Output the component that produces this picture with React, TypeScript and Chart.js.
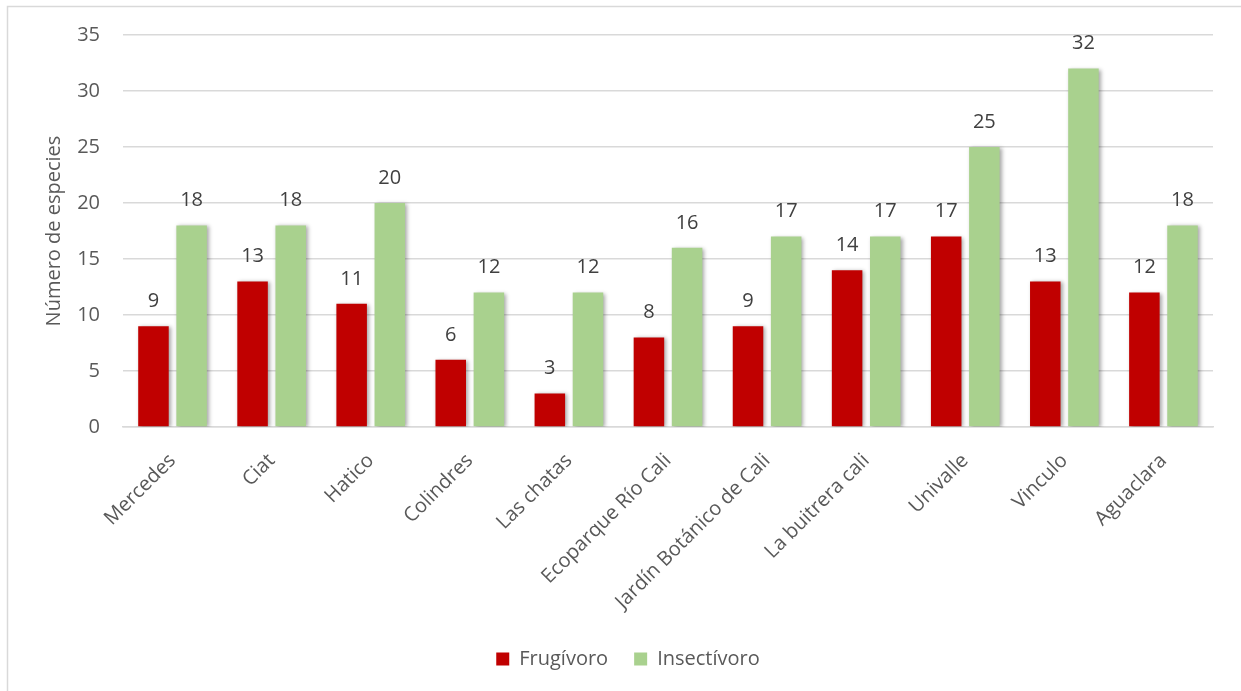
import React, { useEffect, useRef } from "react";
import { Chart, registerables } from "chart.js";

Chart.register(...registerables);

const categories = [
  "Mercedes",
  "Ciat",
  "Hatico",
  "Colindres",
  "Las chatas",
  "Ecoparque Río Cali",
  "Jardín Botánico de Cali",
  "La buitrera cali",
  "Univalle",
  "Vinculo",
  "Aguaclara",
];
const frugivoro = [9, 13, 11, 6, 3, 8, 9, 14, 17, 13, 12];
const insectivoro = [18, 18, 20, 12, 12, 16, 17, 17, 25, 32, 18];
const seriesNames = ["Frugívoro", "Insectívoro"];
const yTicks = [0, 5, 10, 15, 20, 25, 30, 35];

const FONT = "'Open Sans', sans-serif";
const TEXT = "#595959";

const shadowPlugin = {
  id: "barShadow",
  beforeDatasetsDraw(chart: any) {
    const ctx = chart.ctx;
    ctx.save();
    ctx.shadowColor = "rgba(0,0,0,0.35)";
    ctx.shadowBlur = 4;
    ctx.shadowOffsetX = 2;
    ctx.shadowOffsetY = 1;
  },
  afterDatasetsDraw(chart: any) {
    chart.ctx.restore();
  },
};

const labelsPlugin = {
  id: "valueLabels",
  afterDatasetsDraw(chart: any) {
    const ctx = chart.ctx;
    ctx.save();
    ctx.font = `20px ${FONT}`;
    ctx.fillStyle = "#404040";
    ctx.textAlign = "center";
    ctx.textBaseline = "middle";
    chart.data.datasets.forEach((ds: any, i: number) => {
      const meta = chart.getDatasetMeta(i);
      meta.data.forEach((bar: any, j: number) => {
        ctx.fillText(String(ds.data[j]), bar.x, bar.y - 25);
      });
    });
    ctx.restore();
  },
};

const frameLegendPlugin = {
  id: "frameLegend",
  beforeDraw(chart: any) {
    const ctx = chart.ctx;
    ctx.save();
    ctx.fillStyle = "#ffffff";
    ctx.fillRect(0, 0, chart.width, chart.height);
    ctx.strokeStyle = "#D9D9D9";
    ctx.lineWidth = 1.5;
    ctx.strokeRect(7.5, 6.5, chart.width + 20, chart.height + 20);
    ctx.restore();
  },
  afterDraw(chart: any) {
    const ctx = chart.ctx;
    ctx.save();
    ctx.font = `20px ${FONT}`;
    ctx.textBaseline = "middle";
    const box = 13;
    const gap = 10;
    const spacing = 26;
    const items = chart.data.datasets.map((ds: any) => ({
      label: ds.label,
      color: ds.backgroundColor,
      w: ctx.measureText(ds.label).width,
    }));
    const total =
      items.reduce((s: number, it: any) => s + box + gap + it.w, 0) +
      spacing * (items.length - 1);
    let x = 628 - total / 2;
    const y = 659;
    items.forEach((it: any) => {
      ctx.fillStyle = it.color;
      ctx.fillRect(x, y - box / 2, box, box);
      x += box + gap;
      ctx.fillStyle = TEXT;
      ctx.textAlign = "left";
      ctx.fillText(it.label, x, y);
      x += it.w + spacing;
    });
    ctx.restore();
  },
};

export default function App() {
  const ref = useRef<HTMLCanvasElement | null>(null);
  useEffect(() => {
    document.body.style.margin = "0";
    const canvas = ref.current!;
    const chart = new Chart(canvas, {
      type: "bar",
      data: {
        labels: categories,
        datasets: [
          {
            label: seriesNames[0],
            data: frugivoro,
            backgroundColor: "#C00000",
            categoryPercentage: 0.77,
            barPercentage: 0.8,
          },
          {
            label: seriesNames[1],
            data: insectivoro,
            backgroundColor: "#A9D18E",
            categoryPercentage: 0.77,
            barPercentage: 0.8,
          },
        ],
      },
      options: {
        responsive: false,
        animation: false,
        devicePixelRatio: 1,
        layout: { padding: { left: 0, right: 28, top: 34, bottom: 0 } },
        plugins: {
          legend: { display: false },
          tooltip: { enabled: false },
        },
        scales: {
          x: {
            grid: { display: false, drawTicks: false },
            border: { display: true, color: "#D9D9D9", width: 1.5 },
            ticks: {
              color: TEXT,
              font: { family: FONT, size: 20 },
              maxRotation: 45,
              minRotation: 45,
              padding: 22,
              autoSkip: false,
            },
            afterFit(scale: any) {
              scale.height = 264;
            },
          },
          y: {
            min: 0,
            max: 35,
            afterBuildTicks(scale: any) {
              scale.ticks = yTicks.map((v) => ({ value: v }));
            },
            grid: { color: "#D9D9D9", lineWidth: 1.5, drawTicks: false },
            border: { display: false },
            ticks: {
              color: TEXT,
              font: { family: FONT, size: 20 },
              padding: 23,
            },
            title: {
              display: true,
              text: "Número de especies",
              color: TEXT,
              font: { family: FONT, size: 20 },
              padding: { top: 42, bottom: 0 },
            },
            afterFit(scale: any) {
              scale.width = 123;
            },
          },
        },
      },
      plugins: [frameLegendPlugin, shadowPlugin, labelsPlugin],
    } as any);
    return () => chart.destroy();
  }, []);
  return <canvas ref={ref} width={1241} height={691} style={{ display: "block" }} />;
}
